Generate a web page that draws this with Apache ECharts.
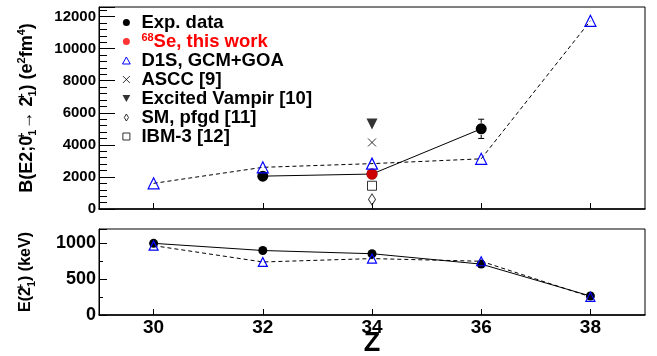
<!DOCTYPE html>
<html>
<head>
<meta charset="utf-8">
<script src="https://cdn.jsdelivr.net/npm/echarts@6/dist/echarts.min.js"></script>
<style>
  html, body { margin: 0; padding: 0; background: #fff; }
  #chart { width: 657px; height: 356px; }
</style>
</head>
<body>
<div id="chart"></div>
<script>
// Z of the even-even N=Z nuclei
const zValues = [30, 32, 34, 36, 38]
const zTicks = [30, 32, 34, 36, 38]

// B(E2; 0+ -> 2+) in e2fm4
const be2ExpZ = [32, 34, 36]
const be2Exp = [2050, 2180, 5000]
const be2ExpErr = [0, 0, 600]
const se68Z = [34]
const se68BE2 = [2180]
const be2D1S = [1600, 2600, 2830, 3130, 11740]
const modelZ = [34]
const be2ASCC = [4150]
const be2Vampir = [5300]
const be2SM = [600]
const be2IBM3 = [1450]

// E(2+) in keV
const e2Exp = [1000, 900, 855, 710, 265]
const e2D1S = [968, 740, 787, 750, 254]

const FONT = '"Liberation Sans", Arial, Helvetica, sans-serif'
const BLUE = '#0000ff'
const NONE = 'rgba(0,0,0,0)'
const SE_NAME = '68Se, this work'

const zip = (xs, ys) => xs.map((x, i) => [x, ys[i]])

// path symbols keep their aspect in the legend
const crossPath = 'path://M0,0L10,10M0,10L10,0'
const downTriPath = 'path://M0,0L10,0L5,9Z'
const upTriPath = 'path://M5,0L10,9L0,9Z'
const diamondPath = 'path://M3,0L6,5L3,10L0,5Z'
const squarePath = 'path://M0,0L10,0L10,10L0,10Z'

const supSub = {
  sup: {fontSize: 11, fontWeight: 'bold', fontFamily: FONT, verticalAlign: 'top', width: 0, color: '#000'},
  sub: {fontSize: 11, fontWeight: 'bold', fontFamily: FONT, verticalAlign: 'bottom', color: '#000'},
  sup2: {fontSize: 11, fontWeight: 'bold', fontFamily: FONT, verticalAlign: 'top', color: '#000'}
}

function xAxisFor(gridIndex, showLabels) {
  return {
    type: 'value',
    gridIndex: gridIndex,
    min: 29,
    max: 39,
    axisLine: {show: true, onZero: false, lineStyle: {color: '#000', width: 1.5}},
    axisTick: {show: true, inside: true, length: 6, customValues: zTicks, lineStyle: {color: '#000'}},
    axisLabel: {
      show: showLabels,
      customValues: zTicks,
      fontFamily: FONT,
      fontWeight: 'bold',
      fontSize: 19,
      color: '#000',
      margin: 3
    },
    splitLine: {show: false},
    name: showLabels ? 'Z' : '',
    nameLocation: 'middle',
    nameGap: 15,
    nameMoveOverlap: false,
    nameTextStyle: {fontFamily: FONT, fontWeight: 'bold', fontSize: 27, color: '#000'}
  }
}

let myChart = echarts.init(document.getElementById('chart'))

myChart.setOption({
  animation: false,
  backgroundColor: '#fff',
  grid: [
    {left: 99, right: 12, top: 7, height: 202, show: true, borderColor: '#000', borderWidth: 1, outerBoundsMode: 'none'},
    {left: 99, right: 12, top: 229, height: 86, show: true, borderColor: '#000', borderWidth: 1, outerBoundsMode: 'none'}
  ],
  legend: {
    orient: 'vertical',
    left: 117,
    top: 8,
    itemWidth: 20,
    itemHeight: 7,
    itemGap: 0,
    selectedMode: false,
    textStyle: {
      fontFamily: FONT,
      fontWeight: 'bold',
      fontSize: 18.5,
      lineHeight: 18,
      color: '#000',
      rich: {
        sup: {fontFamily: FONT, fontWeight: 'bold', fontSize: 11, color: '#ff0000', verticalAlign: 'top', lineHeight: 18},
        red: {fontFamily: FONT, fontWeight: 'bold', fontSize: 18.5, color: '#ff0000', lineHeight: 18}
      }
    },
    formatter: name => name === SE_NAME ? '{sup|68}{red|Se, this work}' : name,
    data: [
      {name: 'Exp. data', icon: 'circle', itemStyle: {color: '#000', borderWidth: 0}},
      {name: SE_NAME, icon: 'circle', itemStyle: {color: '#ff0000', borderWidth: 0}},
      {name: 'D1S, GCM+GOA', icon: upTriPath, itemStyle: {color: NONE, borderColor: BLUE, borderWidth: 1}},
      {name: 'ASCC [9]', icon: crossPath, itemStyle: {color: NONE, borderColor: '#000', borderWidth: 1}},
      {name: 'Excited Vampir [10]', icon: downTriPath, itemStyle: {color: '#000', borderWidth: 0}},
      {name: 'SM, pfgd [11]', icon: diamondPath, itemStyle: {color: NONE, borderColor: '#000', borderWidth: 1}},
      {name: 'IBM-3 [12]', icon: squarePath, itemStyle: {color: NONE, borderColor: '#000', borderWidth: 1}}
    ]
  },
  xAxis: [xAxisFor(0, false), xAxisFor(1, true)],
  yAxis: [
    {
      type: 'value',
      gridIndex: 0,
      min: 0,
      max: 12600,
      interval: 2000,
      axisLine: {show: true, lineStyle: {color: '#000', width: 1}},
      axisTick: {show: true, inside: true, length: 16, lineStyle: {color: '#000'}},
      minorTick: {show: true, splitNumber: 5, length: 8, lineStyle: {color: '#000'}},
      axisLabel: {
        fontFamily: FONT, fontWeight: 'bold', fontSize: 15, color: '#000', margin: 3,
        formatter: v => (v % 2000 === 0 ? String(v) : '')
      },
      splitLine: {show: false},
      name: 'B(E2;0{sup|+}{sub|1}→ 2{sup|+}{sub|1}) (e{sup2|2}fm{sup2|4})',
      nameLocation: 'middle',
      nameGap: 61,
      nameTextStyle: {fontFamily: FONT, fontWeight: 'bold', fontSize: 18, lineHeight: 22, color: '#000', rich: supSub}
    },
    {
      type: 'value',
      gridIndex: 1,
      min: 0,
      max: 1200,
      interval: 500,
      axisLine: {show: true, lineStyle: {color: '#000', width: 1}},
      axisTick: {show: true, inside: true, length: 8, lineStyle: {color: '#000'}},
      minorTick: {show: true, splitNumber: 2, length: 4, lineStyle: {color: '#000'}},
      axisLabel: {
        fontFamily: FONT, fontWeight: 'bold', fontSize: 18, color: '#000', margin: 3,
        formatter: v => (v % 500 === 0 ? String(v) : '')
      },
      splitLine: {show: false},
      name: 'E(2{sup|+}{sub|1}) (keV)',
      nameLocation: 'middle',
      nameGap: 62,
      nameTextStyle: {fontFamily: FONT, fontWeight: 'bold', fontSize: 16, lineHeight: 22, color: '#000', rich: supSub}
    }
  ],
  series: [
    {
      name: 'Exp. data',
      type: 'line',
      xAxisIndex: 0, yAxisIndex: 0,
      data: zip(be2ExpZ, be2Exp),
      symbol: 'circle', symbolSize: 11,
      itemStyle: {color: '#000'},
      lineStyle: {color: '#000', width: 1},
      z: 3
    },
    {
      name: 'Exp. data',
      type: 'custom',
      xAxisIndex: 0, yAxisIndex: 0,
      data: be2ExpZ.map((z, i) => [z, be2Exp[i], be2ExpErr[i]]),
      renderItem: (params, api) => {
        const err = api.value(2)
        if (!err) return null
        const c = api.coord([api.value(0), api.value(1)])
        const hi = api.coord([api.value(0), api.value(1) + err])
        const lo = api.coord([api.value(0), api.value(1) - err])
        const r = 6
        const st = {stroke: '#000', lineWidth: 1}
        return {
          type: 'group',
          children: [
            {type: 'line', shape: {x1: c[0], y1: hi[1], x2: c[0], y2: c[1] - r}, style: st},
            {type: 'line', shape: {x1: c[0], y1: c[1] + r, x2: c[0], y2: lo[1]}, style: st},
            {type: 'line', shape: {x1: c[0] - 3, y1: hi[1], x2: c[0] + 3, y2: hi[1]}, style: st},
            {type: 'line', shape: {x1: c[0] - 3, y1: lo[1], x2: c[0] + 3, y2: lo[1]}, style: st}
          ]
        }
      },
      z: 3
    },
    {
      name: SE_NAME,
      type: 'scatter',
      xAxisIndex: 0, yAxisIndex: 0,
      data: zip(se68Z, se68BE2),
      symbol: 'circle', symbolSize: 11,
      itemStyle: {color: '#ff0000'},
      z: 4
    },
    {
      name: 'D1S, GCM+GOA',
      type: 'line',
      xAxisIndex: 0, yAxisIndex: 0,
      data: zip(zValues, be2D1S),
      symbol: 'triangle', symbolSize: 11,
      itemStyle: {color: NONE, borderColor: BLUE, borderWidth: 1.2},
      lineStyle: {color: '#000', width: 1, type: [4, 3]},
      z: 5
    },
    {
      name: 'ASCC [9]',
      type: 'scatter',
      xAxisIndex: 0, yAxisIndex: 0,
      data: zip(modelZ, be2ASCC),
      symbol: crossPath, symbolSize: 8,
      itemStyle: {color: NONE, borderColor: '#000', borderWidth: 1},
      z: 4
    },
    {
      name: 'Excited Vampir [10]',
      type: 'scatter',
      xAxisIndex: 0, yAxisIndex: 0,
      data: zip(modelZ, be2Vampir),
      symbol: downTriPath, symbolSize: 11,
      itemStyle: {color: '#000'},
      z: 4
    },
    {
      name: 'SM, pfgd [11]',
      type: 'scatter',
      xAxisIndex: 0, yAxisIndex: 0,
      data: zip(modelZ, be2SM),
      symbol: diamondPath, symbolSize: [7, 11],
      itemStyle: {color: NONE, borderColor: '#000', borderWidth: 1},
      z: 4
    },
    {
      name: 'IBM-3 [12]',
      type: 'scatter',
      xAxisIndex: 0, yAxisIndex: 0,
      data: zip(modelZ, be2IBM3),
      symbol: 'rect', symbolSize: 9,
      itemStyle: {color: NONE, borderColor: '#000', borderWidth: 1},
      z: 4
    },
    {
      name: 'Exp. data',
      type: 'line',
      xAxisIndex: 1, yAxisIndex: 1,
      data: zip(zValues, e2Exp),
      symbol: 'circle', symbolSize: 9,
      itemStyle: {color: '#000'},
      lineStyle: {color: '#000', width: 1},
      z: 3
    },
    {
      name: 'D1S, GCM+GOA',
      type: 'line',
      xAxisIndex: 1, yAxisIndex: 1,
      data: zip(zValues, e2D1S),
      symbol: 'triangle', symbolSize: 9,
      itemStyle: {color: NONE, borderColor: BLUE, borderWidth: 1.2},
      lineStyle: {color: '#000', width: 1, type: [4, 3]},
      z: 5
    }
  ]
})
</script>
</body>
</html>
